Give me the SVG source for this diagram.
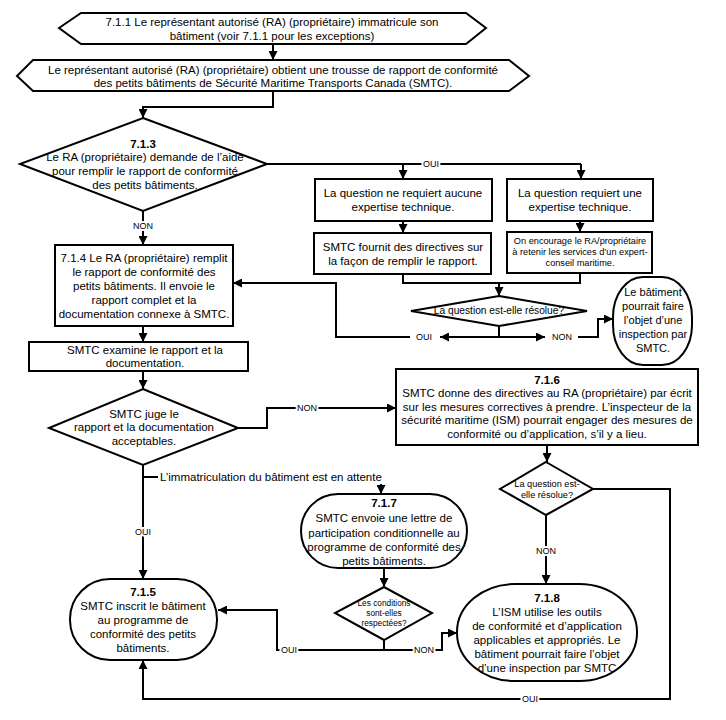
<svg xmlns="http://www.w3.org/2000/svg" width="726" height="720" viewBox="0 0 726 720">
<defs>
<marker id="ah" viewBox="0 0 10 10" refX="10" refY="5" markerWidth="9" markerHeight="9" markerUnits="userSpaceOnUse" orient="auto">
<path d="M0,0 L10,5 L0,10 z" fill="#000"/>
</marker>
<style>
.s{fill:#fff;stroke:#000;stroke-width:2}
.c{fill:none;stroke:#000;stroke-width:2}
.a{marker-end:url(#ah)}
text{font-family:"Liberation Sans",Arial,sans-serif;fill:#000;text-anchor:middle}
.t{font-size:11.5px}
.tn{font-size:11px}
.b{font-size:11.5px;font-weight:bold}
.m{font-size:10.2px}
.sm{font-size:9.2px}
.xs{font-size:8.3px}
.lbl{font-size:9px;stroke:#fff;stroke-width:4;paint-order:stroke}
</style>
</defs>
<rect width="726" height="720" fill="#fff"/>

<g id="connectors">
<path class="c a" d="M273,44 V60"/>
<path class="c a" d="M273,91 V107 H143 V118"/>
<path class="c a" d="M143,211 V245"/>
<path class="c" d="M267,164 H581"/>
<path class="c a" d="M403,164 V179"/>
<path class="c a" d="M581,164 V179"/>
<path class="c a" d="M403,221 V233"/>
<path class="c a" d="M580,221 V232"/>
<path class="c" d="M403,274 V283 H580 V273"/>
<path class="c a" d="M499,283 V296"/>
<path class="c a" d="M499,326 V337 H440"/>
<path class="c a" d="M410,337 H336 V283 H233"/>
<path class="c a" d="M499,337 H545"/>
<path class="c a" d="M578,337 H598 V319 H613"/>
<path class="c a" d="M143,326 V342"/>
<path class="c a" d="M143,371 V389"/>
<path class="c a" d="M238,428 H267 V408 H396"/>
<path class="c a" d="M143,465 V579"/>
<path class="c" d="M143,477 H158"/>
<path class="c a" d="M381,484 V494"/>
<path class="c a" d="M547,445 V462"/>
<path class="c a" d="M593,489 H670 V699 H143 V660"/>
<path class="c a" d="M546,515 V584"/>
<path class="c a" d="M384,568 V587"/>
<path class="c a" d="M384,640 V650 H277 V610 H218"/>
<path class="c a" d="M384,650 H442 V633 H457"/>
<text class="lbl" x="143" y="229">NON</text>
<text class="lbl" x="431" y="167">OUI</text>
<text class="lbl" x="424" y="340">OUI</text>
<text class="lbl" x="562" y="340">NON</text>
<text class="lbl" x="307" y="411">NON</text>
<text class="lbl" x="143" y="535">OUI</text>
<text class="t" x="160" y="481" style="text-anchor:start">L’immatriculation du bâtiment est en attente</text>
<text class="lbl" x="530" y="702">OUI</text>
<text class="lbl" x="546" y="554">NON</text>
<text class="lbl" x="289" y="653">OUI</text>
<text class="lbl" x="424" y="653">NON</text>
</g>

<g id="n711">
<polygon class="s" points="59,28 81,13 466,13 486,28 466,44 81,44"/>
<text class="t" x="272" y="26">7.1.1 Le représentant autorisé (RA) (propriétaire) immatricule son</text>
<text class="t" x="272" y="40">bâtiment (voir 7.1.1 pour les exceptions)</text>
</g>

<g id="n712">
<polygon class="s" points="17,76 33,60 509,60 529,76 509,91 33,91"/>
<text class="t" x="273" y="74">Le représentant autorisé (RA) (propriétaire) obtient une trousse de rapport de conformité</text>
<text class="t" x="273" y="87">des petits bâtiments de Sécurité Maritime Transports Canada (SMTC).</text>
</g>

<g id="n713">
<polygon class="s" points="143,118 267,164 143,211 20,164"/>
<text class="b" x="143" y="148">7.1.3</text>
<text class="t" x="145" y="161">Le RA (propriétaire) demande de l’aide</text>
<text class="t" x="145" y="175">pour remplir le rapport de conformité</text>
<text class="t" x="145" y="189">des petits bâtiments.</text>
</g>

<g id="nAucune">
<rect class="s" x="315" y="179" width="177" height="42"/>
<text class="t" x="403" y="197">La question ne requiert aucune</text>
<text class="t" x="403" y="211">expertise technique.</text>
</g>

<g id="nRequiert">
<rect class="s" x="507" y="179" width="146" height="42"/>
<text class="t" x="580" y="197">La question requiert une</text>
<text class="t" x="580" y="211">expertise technique.</text>
</g>

<g id="nFournit">
<rect class="s" x="314" y="233" width="177" height="41"/>
<text class="t" x="403" y="251">SMTC fournit des directives sur</text>
<text class="t" x="403" y="265">la façon de remplir le rapport.</text>
</g>

<g id="nEncourage">
<rect class="s" x="507" y="232" width="145" height="41"/>
<text class="sm" x="580" y="244">On encourage le RA/propriétaire</text>
<text class="sm" x="580" y="255">à retenir les services d’un expert-</text>
<text class="sm" x="580" y="266">conseil maritime.</text>
</g>

<g id="nResolue1">
<polygon class="s" points="499,296 587,311 499,326 411,311"/>
<text class="m" x="499" y="314">La question est-elle résolue?</text>
</g>

<g id="nInspection">
<rect class="s" x="613" y="277" width="79" height="88" rx="30" ry="40"/>
<text class="tn" x="653" y="296">Le bâtiment</text>
<text class="tn" x="653" y="310">pourrait faire</text>
<text class="tn" x="653" y="324">l’objet d’une</text>
<text class="tn" x="653" y="338">inspection par</text>
<text class="tn" x="653" y="352">SMTC.</text>
</g>

<g id="n714">
<rect class="s" x="55" y="245" width="178" height="81"/>
<text class="t" x="144" y="262">7.1.4 Le RA (propriétaire) remplit</text>
<text class="t" x="144" y="276">le rapport de conformité des</text>
<text class="t" x="144" y="290">petits bâtiments. Il envoie le</text>
<text class="t" x="144" y="304">rapport complet et la</text>
<text class="t" x="144" y="318">documentation connexe à SMTC.</text>
</g>

<g id="nExamine">
<rect class="s" x="29" y="342" width="219" height="29"/>
<text class="t" x="145" y="354">SMTC examine le rapport et la</text>
<text class="t" x="145" y="367">documentation.</text>
</g>

<g id="nJuge">
<polygon class="s" points="143,389 238,428 143,465 49,428"/>
<text class="t" x="144" y="418">SMTC juge le</text>
<text class="t" x="144" y="431">rapport et la documentation</text>
<text class="t" x="144" y="445">acceptables.</text>
</g>

<g id="n716">
<rect class="s" x="396" y="369" width="302" height="76"/>
<text class="b" x="547" y="384">7.1.6</text>
<text class="t" x="547" y="397">SMTC donne des directives au RA (propriétaire) par écrit</text>
<text class="t" x="547" y="411">sur les mesures correctives à prendre. L’inspecteur de la</text>
<text class="t" x="547" y="424">sécurité maritime (ISM) pourrait engager des mesures de</text>
<text class="t" x="547" y="438">conformité ou d’application, s’il y a lieu.</text>
</g>

<g id="nResolue2">
<polygon class="s" points="546,462 593,489 546,515 500,489"/>
<text class="sm" x="547" y="487">La question est-</text>
<text class="sm" x="547" y="498">elle résolue?</text>
</g>

<g id="n717">
<rect class="s" x="301" y="494" width="166" height="74" rx="37" ry="37"/>
<text class="b" x="384" y="507">7.1.7</text>
<text class="t" x="384" y="522">SMTC envoie une lettre de</text>
<text class="t" x="384" y="537">participation conditionnelle au</text>
<text class="t" x="384" y="551">programme de conformité des</text>
<text class="t" x="384" y="565">petits bâtiments.</text>
</g>

<g id="nConditions">
<polygon class="s" points="384,587 432,613 384,640 335,613"/>
<text class="xs" x="384" y="606">Les conditions</text>
<text class="xs" x="384" y="616">sont-elles</text>
<text class="xs" x="384" y="626">respectées?</text>
</g>

<g id="n715">
<rect class="s" x="70" y="579" width="147" height="81" rx="40" ry="40"/>
<text class="b" x="143" y="596">7.1.5</text>
<text class="t" x="143" y="610">SMTC inscrit le bâtiment</text>
<text class="t" x="143" y="624">au programme de</text>
<text class="t" x="143" y="638">conformité des petits</text>
<text class="t" x="143" y="652">bâtiments.</text>
</g>

<g id="n718">
<rect class="s" x="457" y="584" width="180" height="97" rx="58" ry="48"/>
<text class="b" x="547" y="602">7.1.8</text>
<text class="t" x="547" y="616">L’ISM utilise les outils</text>
<text class="t" x="547" y="630">de conformité et d’application</text>
<text class="t" x="547" y="644">applicables et appropriés. Le</text>
<text class="t" x="547" y="658">bâtiment pourrait faire l’objet</text>
<text class="t" x="547" y="672">d’une inspection par SMTC</text>
</g>
</svg>
